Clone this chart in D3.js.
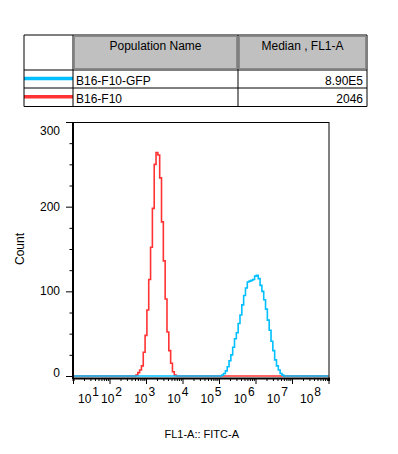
<!DOCTYPE html>
<html><head><meta charset="utf-8">
<script src="https://cdn.jsdelivr.net/npm/d3@7"></script>
<style>
html,body{margin:0;padding:0;background:#fff;}
text{font-family:Arial,"Liberation Sans",sans-serif;}
</style></head>
<body><div id="chart"></div>
<script>
// ---- data ----
const populations = ["B16-F10-GFP", "B16-F10"];
const medians = ["8.90E5", "2046"];
const seriesColors = ["#00bfff", "#ff3333"];
const tableHeaders = ["Population Name", "Median , FL1-A"];

// histogram bins: log10(FL1-A) bin position and event count
const redLog =   [2.75,2.80,2.85,2.90,2.95,3.00,3.05,3.10,3.15,3.20,3.25,3.30,3.35,3.40,3.45,3.50,3.55,3.60,3.65,3.70,3.75,3.80];
const redCount = [1,   4,   7,   12,  28,  48,  78,  114, 152, 198, 250, 264, 261, 234, 182, 136, 91,  52,  30,  15,  5,   1];
const blueLog =   [5.10,5.15,5.20,5.25,5.30,5.35,5.40,5.45,5.50,5.55,5.60,5.65,5.70,5.75,5.80,5.85,5.90,5.95,6.00,6.05,6.10,6.15,6.20,6.25,6.30,6.35,6.40,6.45,6.50,6.55,6.60,6.65,6.70,6.75];
const blueCount = [1,   3,   6,   11,  18,  25,  34,  44,  51,  62,  72,  84,  95,  104, 111, 112, 113, 114, 118, 119, 115, 107, 100, 90,  79,  66,  54,  41,  30,  19,  12,  7,   3,   1];

const yTickValues = [0, 100, 200, 300];
const xDecades = [1, 2, 3, 4, 5, 6, 7, 8];
const xTitle = "FL1-A:: FITC-A";
const yTitle = "Count";

(function () {
const W = 398, H = 454;
const svg = d3.select("#chart").append("svg").attr("width", W).attr("height", H);
svg.append("rect").attr("width", W).attr("height", H).attr("fill", "#fff");

// Table
const colX = [24, 73, 238, 367];
const rowY = [35, 70, 88, 106.5];
const tbl = svg.append("g");
for (let c = 1; c <= 2; c++) {
  tbl.append("rect").attr("x", colX[c] + 1.5).attr("y", rowY[0] + 1.5)
    .attr("width", colX[c + 1] - colX[c] - 3).attr("height", rowY[1] - rowY[0] - 3)
    .attr("fill", "#c0c0c0").attr("stroke", "#8a8a8a").attr("stroke-width", 1);
  tbl.append("text").attr("x", (colX[c] + colX[c + 1]) / 2).attr("y", 50)
    .attr("text-anchor", "middle").attr("font-size", 12).attr("fill", "#000")
    .text(tableHeaders[c - 1]);
}
populations.forEach((p, i) => {
  const y0 = rowY[i + 1], y1 = rowY[i + 2];
  tbl.append("line").attr("x1", colX[0]).attr("x2", colX[1])
    .attr("y1", (y0 + y1) / 2 - 0.5).attr("y2", (y0 + y1) / 2 - 0.5)
    .attr("stroke", seriesColors[i]).attr("stroke-width", 3.5);
  tbl.append("text").attr("x", colX[1] + 3).attr("y", y1 - 3.5)
    .attr("font-size", 12).attr("fill", "#000").text(p);
  tbl.append("text").attr("x", colX[3] - 4).attr("y", y1 - 3.5)
    .attr("text-anchor", "end").attr("font-size", 12).attr("fill", "#000").text(medians[i]);
});
rowY.forEach(yv => tbl.append("line").attr("x1", colX[0]).attr("x2", colX[3])
  .attr("y1", yv).attr("y2", yv).attr("stroke", "#000").attr("stroke-width", 1));
colX.forEach(xv => tbl.append("line").attr("x1", xv).attr("x2", xv)
  .attr("y1", rowY[0]).attr("y2", rowY[3]).attr("stroke", "#000").attr("stroke-width", 1));

// Plot
const pLeft = 73, pRight = 328.5, pTop = 122, pBottom = 376;
const x = d3.scaleLog().domain([10, 1e8]).range([pLeft, pRight]);
const y = d3.scaleLinear().domain([0, 300]).range([pBottom, pTop]);

function makeSeries(logs, counts) {
  const step = 0.05;
  const pts = [[10, 0], [Math.pow(10, logs[0] - step), 0]];
  logs.forEach((l, i) => pts.push([Math.pow(10, l), counts[i]]));
  pts.push([Math.pow(10, logs[logs.length - 1] + step), 0]);
  pts.push([1e8, 0]);
  return pts;
}
const line = d3.line().x(d => x(d[0])).y(d => y(d[1])).curve(d3.curveStep);
const plot = svg.append("g");
plot.append("path").datum(makeSeries(redLog, redCount)).attr("d", line)
  .attr("fill", "none").attr("stroke", seriesColors[1]).attr("stroke-width", 1.6);
plot.append("path").datum(makeSeries(blueLog, blueCount)).attr("d", line)
  .attr("fill", "none").attr("stroke", seriesColors[0]).attr("stroke-width", 1.6);

svg.append("line").attr("x1", pLeft).attr("x2", pRight + 0.5).attr("y1", pTop + 0.5).attr("y2", pTop + 0.5)
  .attr("stroke", "#000").attr("stroke-width", 1);
svg.append("line").attr("x1", pRight + 0.5).attr("x2", pRight + 0.5).attr("y1", pTop).attr("y2", pBottom + 3)
  .attr("stroke", "#000").attr("stroke-width", 1);

// X axis
const xTickVals = [];
xDecades.forEach(k => {
  if (k < 8) for (let m = 1; m <= 9; m++) xTickVals.push(m * Math.pow(10, k));
  else xTickVals.push(Math.pow(10, k));
});
const xAxisG = svg.append("g").attr("transform", `translate(0,${pBottom + 2})`)
  .call(d3.axisBottom(x).tickValues(xTickVals).tickFormat("").tickSizeOuter(0).tickSize(3));
xAxisG.select(".domain").attr("stroke", "#000").attr("stroke-width", 2);
xAxisG.selectAll(".tick line").attr("stroke", "#000").attr("stroke-width", 1)
  .attr("y2", d => Math.abs(Math.log10(d) - Math.round(Math.log10(d))) < 1e-9 ? 6 : 3);

const labelPos = d3.scaleLinear().domain([2, 8]).range([101, 300]);
xDecades.forEach(k => {
  const lx = Math.max(labelPos(k), 78);
  const t = svg.append("text").attr("x", lx).attr("y", 403).attr("font-size", 12).attr("fill", "#000");
  t.append("tspan").text("10");
  t.append("tspan").attr("dy", -7).attr("dx", 1).text(k);
});

// Y axis
const yAxisG = svg.append("g").attr("transform", `translate(${pLeft},0)`)
  .call(d3.axisLeft(y).tickValues(d3.range(0, 301, 25)).tickFormat("").tickSizeOuter(0).tickSize(3));
yAxisG.select(".domain").attr("stroke", "#000").attr("stroke-width", 2)
  .attr("d", `M0,${pTop}V${pBottom + 3}`);
yAxisG.selectAll(".tick line").attr("stroke", "#000").attr("stroke-width", 1)
  .attr("x2", d => d % 100 === 0 ? -7 : -3.5);
yTickValues.forEach(v => {
  const ly = Math.min(Math.max(y(v), 131), 373);
  svg.append("text").attr("x", 60).attr("y", ly + 4).attr("text-anchor", "end")
    .attr("font-size", 12).attr("fill", "#000").text(v);
});

svg.append("text").attr("x", (pLeft + pRight) / 2 + 1).attr("y", 438).attr("text-anchor", "middle")
  .attr("font-size", 11).attr("fill", "#000").text(xTitle);
svg.append("text").attr("transform", "translate(24,249) rotate(-90)").attr("text-anchor", "middle")
  .attr("font-size", 12).attr("fill", "#000").text(yTitle);
})();
</script></body></html>
